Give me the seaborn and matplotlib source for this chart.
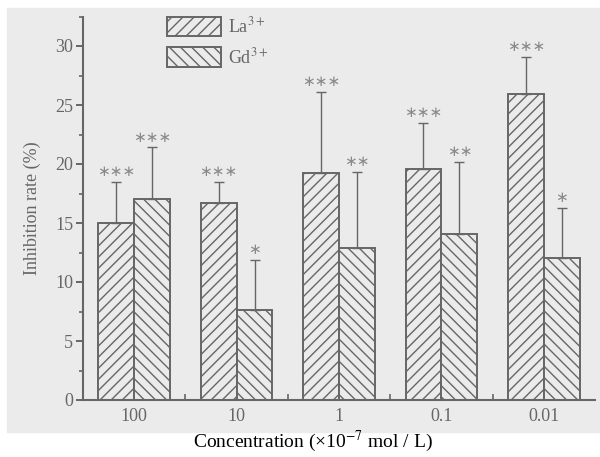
import pandas as pd
import numpy as np
import matplotlib
matplotlib.use("Agg")
import matplotlib.pyplot as plt
from matplotlib.patches import Patch, Rectangle
from matplotlib.ticker import MultipleLocator
import seaborn as sns

# values
concentrations = ["100", "10", "1", "0.1", "0.01"]
la_rate = [15.0, 16.7, 19.2, 19.6, 25.9]
gd_rate = [17.0, 7.6, 12.9, 14.1, 12.0]
la_err = [3.5, 1.8, 6.9, 3.9, 3.2]
gd_err = [4.4, 4.3, 6.4, 6.1, 4.3]
la_stars = ["***", "***", "***", "***", "***"]
gd_stars = ["***", "*", "**", "**", "*"]
series = ["La$^{3+}$", "Gd$^{3+}$"]

GRAY = "#666666"
sns.set_style("ticks")
plt.rcParams["font.family"] = ["Liberation Serif", "DejaVu Serif"]
plt.rcParams["mathtext.fontset"] = "stix"
plt.rcParams["hatch.color"] = "#7a7a7a"
plt.rcParams["hatch.linewidth"] = 1.0

df = pd.DataFrame({
    "conc": concentrations * 2,
    "rate": la_rate + gd_rate,
    "ion": [series[0]] * 5 + [series[1]] * 5,
})

fig = plt.figure(figsize=(6, 4.57), dpi=100)
fig.patches.append(Rectangle((7 / 600, 1 - 432 / 457), 593 / 600, 424 / 457,
                             transform=fig.transFigure, color="#ebebeb", zorder=-5))
ax = fig.add_axes([83 / 600, 1 - 400 / 457, 512 / 600, 383.5 / 457])
ax.set_facecolor("none")

sns.barplot(data=df, x="conc", y="rate", hue="ion", order=concentrations,
            hue_order=series, width=0.7, fill=False, legend=False, ax=ax)

hatches = {0: "///", 1: "\\\\\\"}
errs = [la_err, gd_err]
stars = [la_stars, gd_stars]
bars = [p for p in ax.patches if isinstance(p, Rectangle)]
for i, bar in enumerate(bars):
    s, k = divmod(i, 5)
    bar.set_hatch(hatches[s])
    bar.set_edgecolor(GRAY)
    bar.set_linewidth(1.4)
    bar.set_facecolor("#ebebeb")
    cx = bar.get_x() + bar.get_width() / 2
    h = bar.get_height()
    ax.errorbar(cx, h, yerr=[[0], [errs[s][k]]], fmt="none", ecolor=GRAY,
                elinewidth=1.0, capsize=3.5, capthick=1.0, zorder=1)
    ax.text(cx, h + errs[s][k] + 0.25, stars[s][k].replace("*", "\u2217"),
            ha="center", va="bottom", fontsize=11, color="#8a8a8a",
            family="DejaVu Sans")

ax.set_xlim(-0.5, 4.5)
ax.set_ylim(0, 32.5)
ax.yaxis.set_major_locator(MultipleLocator(5))
ax.yaxis.set_minor_locator(MultipleLocator(2.5))
ax.set_xticks(np.arange(5))
ax.set_xticklabels(concentrations)
ax.set_xticks(np.arange(4) + 0.5, minor=True)
ax.tick_params(axis="x", which="major", length=0, labelsize=13, labelcolor=GRAY, pad=6)
ax.tick_params(axis="x", which="minor", direction="in", length=4, color=GRAY, width=1.2)
ax.tick_params(axis="y", which="major", length=5, color=GRAY, width=1.4,
               labelsize=13, labelcolor=GRAY, pad=2)
ax.tick_params(axis="y", which="minor", length=3, color=GRAY, width=1.2)
sns.despine(ax=ax)
for sp in ["left", "bottom"]:
    ax.spines[sp].set_color(GRAY)
    ax.spines[sp].set_linewidth(1.5)

ax.set_xlabel("")
ax.set_ylabel("Inhibition rate (%)", fontsize=13, color=GRAY, labelpad=10)

handles = [Patch(facecolor="none", edgecolor=GRAY, hatch=hatches[i], linewidth=1.4)
           for i in range(2)]
ax.legend(handles, series, loc="upper left", bbox_to_anchor=(0.164, 1.0),
          frameon=False, fontsize=13, labelcolor=GRAY, handlelength=3.0,
          handleheight=1.3, borderpad=0, borderaxespad=0, labelspacing=0.6,
          handletextpad=0.4)

fig.text(313 / 600, 1 - 441 / 457, "Concentration (\u00d710$^{-7}$ mol / L)",
         ha="center", va="center", fontsize=14, color="black")

fig.savefig("out.png", dpi=100)
